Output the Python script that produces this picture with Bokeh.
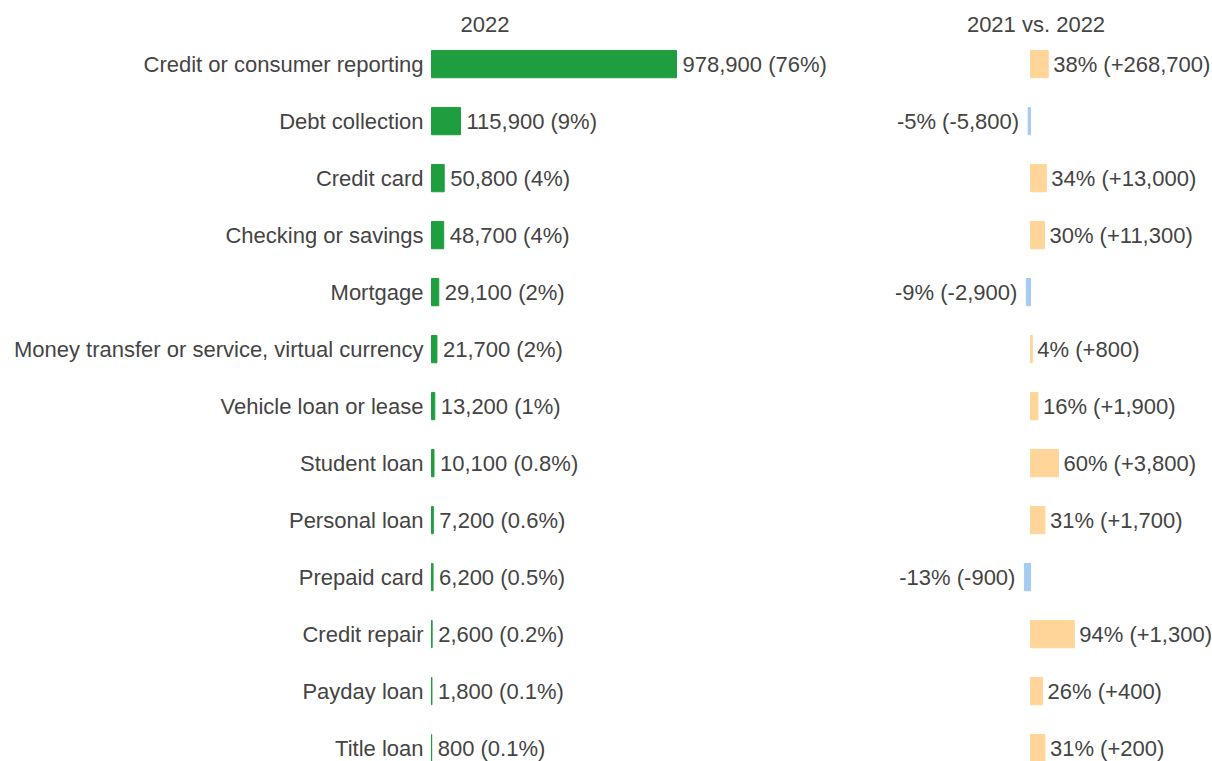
from bokeh.plotting import figure
from bokeh.models import ColumnDataSource, Range1d, Label
from bokeh.core.properties import value
from bokeh.embed import file_html
from bokeh.resources import INLINE

categories = ["Credit or consumer reporting", "Debt collection", "Credit card",
              "Checking or savings", "Mortgage",
              "Money transfer or service, virtual currency",
              "Vehicle loan or lease", "Student loan", "Personal loan",
              "Prepaid card", "Credit repair", "Payday loan", "Title loan"]
counts_2022 = [978900, 115900, 50800, 48700, 29100, 21700, 13200, 10100,
               7200, 6200, 2600, 1800, 800]
share_2022 = [76, 9, 4, 4, 2, 2, 1, 0.8, 0.6, 0.5, 0.2, 0.1, 0.1]
pct_change = [38, -5, 34, 30, -9, 4, 16, 60, 31, -13, 94, 26, 31]
abs_change = [268700, -5800, 13000, 11300, -2900, 800, 1900, 3800, 1700,
              -900, 1300, 400, 200]

FONT = "Liberation Sans"
TXT = "#444444"
GREEN = "#1f9e3f"
ORANGE = "#ffd599"
BLUE = "#a6cbf0"

idx = list(range(len(categories)))

left_labels = [f"{c:,} ({s:g}%)" for c, s in zip(counts_2022, share_2022)]
chg_labels = [f"{p}% ({d:+,})" for p, d in zip(pct_change, abs_change)]
chg_colors = [ORANGE if p >= 0 else BLUE for p in pct_change]
zeros = [0] * len(categories)

src = ColumnDataSource(dict(y=idx, cat=categories, zero=zeros,
                            count=counts_2022, lab=left_labels,
                            pct=pct_change, ccol=chg_colors))
pos = ColumnDataSource(dict(y=[i for i, p in zip(idx, pct_change) if p >= 0],
                            x=[p for p in pct_change if p >= 0],
                            t=[l for l, p in zip(chg_labels, pct_change) if p >= 0]))
neg = ColumnDataSource(dict(y=[i for i, p in zip(idx, pct_change) if p < 0],
                            x=[p for p in pct_change if p < 0],
                            t=[l for l, p in zip(chg_labels, pct_change) if p < 0]))

W, H = 1212, 761
p = figure(width=W, height=H, output_backend="svg", toolbar_location=None,
           x_range=Range1d(-1722005, 3120400), y_range=Range1d(12.235, -1.116),
           x_axis_location=None, y_axis_location=None,
           min_border_left=0, min_border_right=0,
           min_border_top=0, min_border_bottom=0)
p.extra_x_ranges = {"pct": Range1d(-2210.3, 390.6)}
p.outline_line_color = None
p.grid.visible = False
p.background_fill_color = "white"

common = dict(text_baseline="middle", text_font=value(FONT),
              text_font_size="22px", text_color=TXT)

bh = 0.479
# category names
p.text(x="zero", y="y", text="cat", source=src, x_offset=-8,
       text_align="right", **common)
# 2022 volumes
p.hbar(y="y", left=0, right="count", height=bh, source=src,
       fill_color=GREEN, line_color=GREEN, line_width=1)
p.text(x="count", y="y", text="lab", source=src, x_offset=6,
       text_align="left", **common)

# change 2021 vs 2022
p.hbar(y="y", left=0, right="pct", height=bh, source=src, x_range_name="pct",
       fill_color="ccol", line_color="ccol", line_width=1)
p.text(x="x", y="y", text="t", source=pos, x_range_name="pct", x_offset=5,
       text_align="left", **common)
p.text(x="x", y="y", text="t", source=neg, x_range_name="pct", x_offset=-9,
       text_align="right", **common)

p.add_layout(Label(x=484.5, y=H - 23.5, x_units="screen", y_units="screen",
                   text="2022", text_align="center", text_baseline="middle",
                   text_font=FONT, text_font_size="22px", text_color=TXT))
p.add_layout(Label(x=1035.5, y=H - 23.5, x_units="screen", y_units="screen",
                   text="2021 vs. 2022", text_align="center",
                   text_baseline="middle", text_font=FONT,
                   text_font_size="22px", text_color=TXT))

open("out.html", "w").write(file_html(p, INLINE))
